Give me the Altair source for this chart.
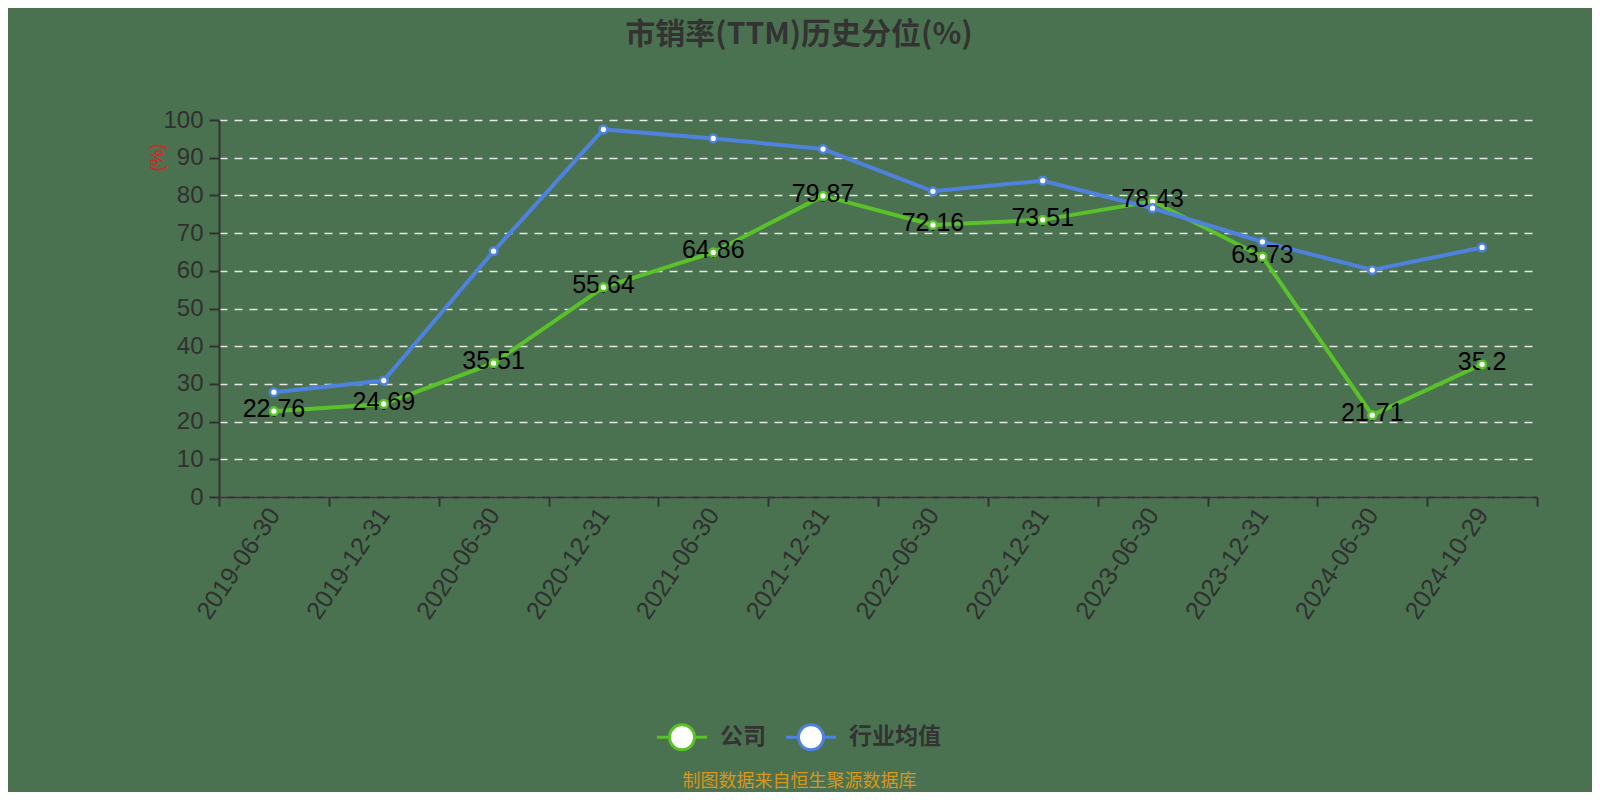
import altair as alt
import pandas as pd

dates = ["2019-06-30", "2019-12-31", "2020-06-30", "2020-12-31", "2021-06-30", "2021-12-31",
         "2022-06-30", "2022-12-31", "2023-06-30", "2023-12-31", "2024-06-30", "2024-10-29"]
company = [22.76, 24.69, 35.51, 55.64, 64.86, 79.87, 72.16, 73.51, 78.43, 63.73, 21.71, 35.2]
industry = [27.8, 30.9, 65.2, 97.5, 95.1, 92.3, 81.1, 83.9, 76.6, 67.7, 60.2, 66.2]
series_names = ["公司", "行业均值"]
series_colors = ["#5ac12a", "#4e82de"]
y_ticks = [0, 10, 20, 30, 40, 50, 60, 70, 80, 90, 100]

df = pd.DataFrame({
    "date": dates + dates,
    "value": company + industry,
    "series": [series_names[0]] * len(dates) + [series_names[1]] * len(dates),
})
lab = pd.DataFrame({"date": dates, "value": company, "label": [str(v) for v in company]})

LAT = "Liberation Sans"
CJK = "Noto Sans CJK SC"

x_enc = alt.X(
    "date:N", sort=dates, bandPosition=0.5,
    scale=alt.Scale(type="band", paddingInner=0, paddingOuter=0),
    axis=alt.Axis(
        tickBand="extent", labelAngle=-56, labelFontSize=25, labelFont=LAT,
        labelColor="#303030", labelPadding=4, domainColor="#333333", domainWidth=2,
        tickColor="#333333", tickWidth=2, tickSize=9, grid=False,
        title="制图数据来自恒生聚源数据库", titleColor="#d8961c", titleFontSize=18,
        titleFont=CJK, titleFontWeight="normal", titleX=580, titleY=284,
        titleAlign="center", titleBaseline="middle", titleAnchor="start",
    ),
)
y_enc = alt.Y(
    "value:Q", scale=alt.Scale(domain=[0, 100], nice=False),
    axis=alt.Axis(
        values=y_ticks, grid=True, gridColor="#e6e6e6", gridDash=[8, 7], gridWidth=1.5,
        labelFontSize=24, labelFont=LAT, labelColor="#303030", labelPadding=6,
        domainColor="#333333", domainWidth=2, tickColor="#333333", tickWidth=2, tickSize=10,
        title="(%)", titleColor="#e02020", titleFontSize=18, titleFont=LAT,
        titleFontWeight="normal", titleX=-62, titleY=37, titleAngle=-90,
        titleAlign="center", titleBaseline="middle", titleAnchor="start",
    ),
)

color_scale = alt.Scale(domain=series_names, range=series_colors)

lines = alt.Chart(df).mark_line(strokeWidth=4).encode(
    x=x_enc, y=y_enc,
    stroke=alt.Stroke("series:N", scale=color_scale, sort=series_names,
                      legend=alt.Legend(
                          title=None, orient="none", direction="horizontal",
                          legendX=449, legendY=603,
                          symbolType="M-2,0L-1,0M1,0L2,0M-1,0A1,1,0,1,1,1,0A1,1,0,1,1,-1,0Z",
                          symbolSize=625, symbolStrokeWidth=3, symbolFillColor="white",
                          labelFont=CJK, labelFontSize=23, labelFontWeight="bold",
                          labelColor="#333333", labelOffset=24, columnPadding=14,
                      )),
    detail="series:N",
)

points = alt.Chart(df).mark_point(filled=False, fill="white", fillOpacity=1, size=60, strokeWidth=2.5).encode(
    x=x_enc, y=y_enc,
    stroke=alt.Stroke("series:N", scale=color_scale, legend=None),
)

texts = alt.Chart(lab).mark_text(fontSize=25, font=LAT, color="#000000", dy=-2).encode(
    x=x_enc, y=y_enc, text="label:N",
)

chart = alt.layer(lines, texts, points).properties(
    width=1318, height=377,
    padding={"left": 211, "top": 112, "right": 55, "bottom": 295},
    autosize=alt.AutoSizeParams(type="none"),
    background="#4b7250",
    title=alt.TitleParams(
        "市销率(TTM)历史分位(%)", font=CJK, fontSize=30, fontWeight="bold",
        color="#333333", anchor="middle", dx=-79, offset=58,
    ),
).configure_view(stroke=None)

chart.save("out.html", embed_options={"renderer": "svg", "actions": False})
